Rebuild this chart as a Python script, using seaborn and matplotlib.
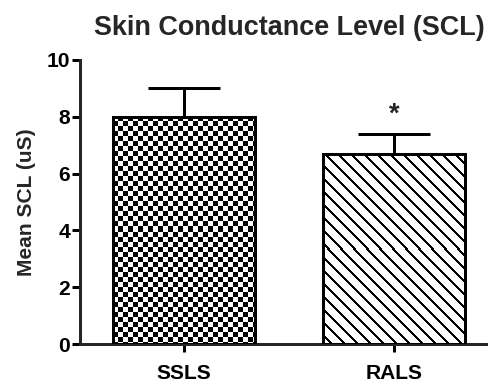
import numpy as np
import pandas as pd
import matplotlib
matplotlib.use('Agg')
import matplotlib.pyplot as plt
import seaborn as sns

# Data
groups = ['SSLS', 'RALS']
means = [8.0, 6.7]
sems = [1.0, 0.7]
yticks = [0, 2, 4, 6, 8, 10]

df = pd.DataFrame({'Group': groups, 'SCL': means})

sns.set_style('ticks')
plt.rcParams['font.family'] = ['Liberation Sans', 'DejaVu Sans']
plt.rcParams['font.weight'] = 'bold'

DPI = 98
fig = plt.figure(figsize=(488 / DPI, 384 / DPI), dpi=DPI)
ax = fig.add_axes([0.164, 0.104, 0.836, 0.740])

lw = 2.2
sns.barplot(data=df, x='Group', y='SCL', color='white', edgecolor='black',
            linewidth=lw, width=0.68, errorbar=None, ax=ax, zorder=2)

xlim = (-0.495, 1.448)
ylim = (0, 10)
ax.set_xlim(xlim)
ax.set_ylim(ylim)


# pixel textures: checkerboard for SSLS, diagonal stripes for RALS
def checker(r, c):
    return ((r // 5 + c // 5) % 2).astype(float)


def stripes(r, c):
    return (((c - r) % 13) < 3).astype(float)


for bar, tex in zip(ax.patches[:2], [checker, stripes]):
    bb = bar.get_window_extent()
    hp, wp = int(round(bb.height)), int(round(bb.width))
    r, c = np.indices((hp, wp))
    x0, y0 = bar.get_xy()
    w, h = bar.get_width(), bar.get_height()
    im = ax.imshow(tex(r, c), extent=(x0, x0 + w, y0, y0 + h), cmap='gray_r',
                   vmin=0, vmax=1, interpolation='nearest', aspect='auto',
                   zorder=2.5)
    im.set_clip_path(bar)
    ax.add_patch(plt.Rectangle((x0, y0), w, h, fill=False, ec='black', lw=lw,
                               zorder=3, joinstyle='miter'))

ax.errorbar(x=[0, 1], y=means, yerr=[[0, 0], sems], fmt='none', ecolor='black',
            elinewidth=lw, capsize=26.5, capthick=lw, zorder=1)

ax.text(1, means[1] + sems[1] + 0.68, '*', ha='center', va='center',
        fontsize=20, fontweight='bold')

ax.set_xlim(xlim)
ax.set_ylim(ylim)
ax.set_yticks(yticks)
sns.despine(ax=ax)
for s in ['left', 'bottom']:
    ax.spines[s].set_linewidth(lw)
ax.tick_params(axis='both', width=lw, length=5.6, labelsize=15.4, colors='black')
ax.tick_params(axis='x', pad=9)
ax.tick_params(axis='y', pad=1.5)
ax.set_xlabel('')
ax.set_ylabel('Mean SCL (uS)', fontsize=15.4, fontweight='bold', labelpad=8)
ax.set_title('Skin Conductance Level (SCL)', fontsize=19.8, fontweight='bold',
             pad=18, x=0.513)

fig.savefig('out.png', dpi=DPI)
